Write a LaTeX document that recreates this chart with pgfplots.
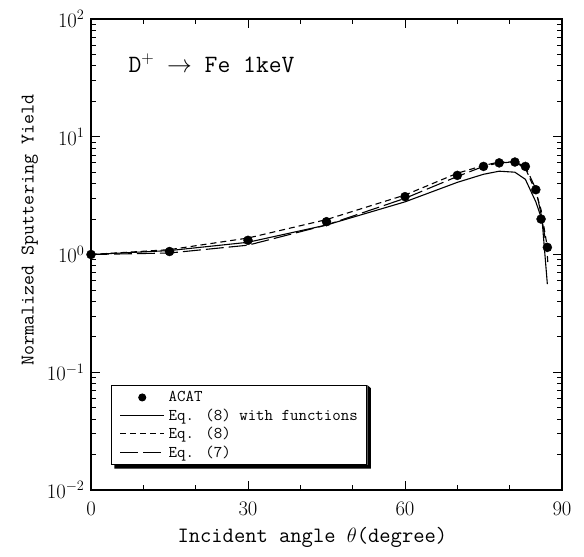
\documentclass[border=0pt]{standalone}
\usepackage{pgfplots}
\pgfplotsset{compat=1.18}
\begin{document}
\begin{tikzpicture}
\begin{axis}[
  scale only axis, width=471bp, height=471bp,
  xmin=0, xmax=90, ymode=log, ymin=1e-2, ymax=1e2,
  xtick={0,30,60,90}, minor x tick num=2,
  ytick={1e-2,1e-1,1,1e1,1e2},
  axis line style={line width=1.2pt},
  every tick/.style={black, line width=0.9pt},
  major tick length=9bp, minor tick length=5bp,
  xtick pos=both, ytick pos=both,
  tick label style={font=\fontsize{20.5}{21}\selectfont},
  xticklabel style={yshift=-9bp},
  yticklabel style={xshift=-3bp},
  xlabel={\fontsize{22}{22}\selectfont\ttfamily Incident angle $\theta$(degree)},
  ylabel={\fontsize{19.5}{20}\selectfont\ttfamily Normalized Sputtering Yield},
  xlabel style={at={(ticklabel cs:0.47)}, anchor=near ticklabel, yshift=-5bp},
  ylabel style={at={(ticklabel cs:0.552)}, anchor=near ticklabel, yshift=2bp},
  clip=false,
  legend cell align=left,
  legend style={name=leg, at={(0.043,0.053)}, anchor=south west, draw=black, line width=1pt,
    fill=white,
    font=\fontsize{16.5}{16.5}\selectfont\ttfamily,
    inner xsep=8bp, inner ysep=4bp, row sep=1.5bp, column sep=3bp,
    nodes={inner xsep=1bp, inner ysep=2bp}},
  legend image code/.code={\draw[#1, line width=1pt] plot coordinates {(0bp,0bp) (22bp,0bp) (44bp,0bp)};},
]
\addplot[only marks, mark=*, mark size=4.5bp, black,
  legend image code/.code={\draw[black] plot[only marks, mark=*, mark size=3.5bp] coordinates {(22bp,0bp)};}]
  coordinates {(0,1.0) (15,1.06) (30,1.32) (45,1.9) (60,3.1) (70,4.7) (75,5.6) (78,6.0) (81,6.1) (83,5.6) (85,3.55) (86,2.0) (87.2,1.15)};
\addlegendentry{ACAT}
\addplot[black, line width=1.1pt, mark=none]
  coordinates {(0,1.0) (15,1.08) (30,1.27) (45,1.78) (60,2.8) (70,4.1) (75,4.8) (78,5.1) (81,5.0) (83,4.35) (85,2.8) (86.2,1.95) (87.2,0.56)};
\addlegendentry{Eq. (8) with functions}
\addplot[black, line width=1.1pt, mark=none, dash pattern=on 6bp off 4bp]
  coordinates {(0,1.0) (15,1.1) (30,1.38) (45,1.98) (60,3.2) (70,4.9) (75,5.7) (78,6.1) (81,6.1) (83,5.4) (85,3.4) (86,2.4) (87,1.3) (87.3,0.85)};
\addlegendentry{Eq. (8)}
\addplot[black, line width=1.1pt, mark=none, dash pattern=on 18bp off 5bp]
  coordinates {(0,1.0) (15,1.03) (30,1.2) (45,1.78) (60,3.0) (70,4.6) (75,5.6) (78,6.0) (81,6.1) (83,5.6) (85,3.6) (86,2.2) (87,1.2)};
\addlegendentry{Eq. (7)}
\node[anchor=west, font=\fontsize{25}{25}\selectfont\ttfamily] at (axis cs:6.5,42) {D$^{+}$ $\rightarrow$ Fe 1keV};
\path (rel axis cs:0,0) ++(-91bp,-66bp) (rel axis cs:1,1) ++(22bp,19bp);
\end{axis}
\fill[black] ([xshift=3bp]leg.south west) -- ([xshift=3bp,yshift=-3.5bp]leg.south west)
  -- ([xshift=3.5bp,yshift=-3.5bp]leg.south east) -- ([xshift=3.5bp,yshift=-3bp]leg.north east)
  -- (leg.north east) -- (leg.south east) -- cycle;
\end{tikzpicture}
\end{document}
